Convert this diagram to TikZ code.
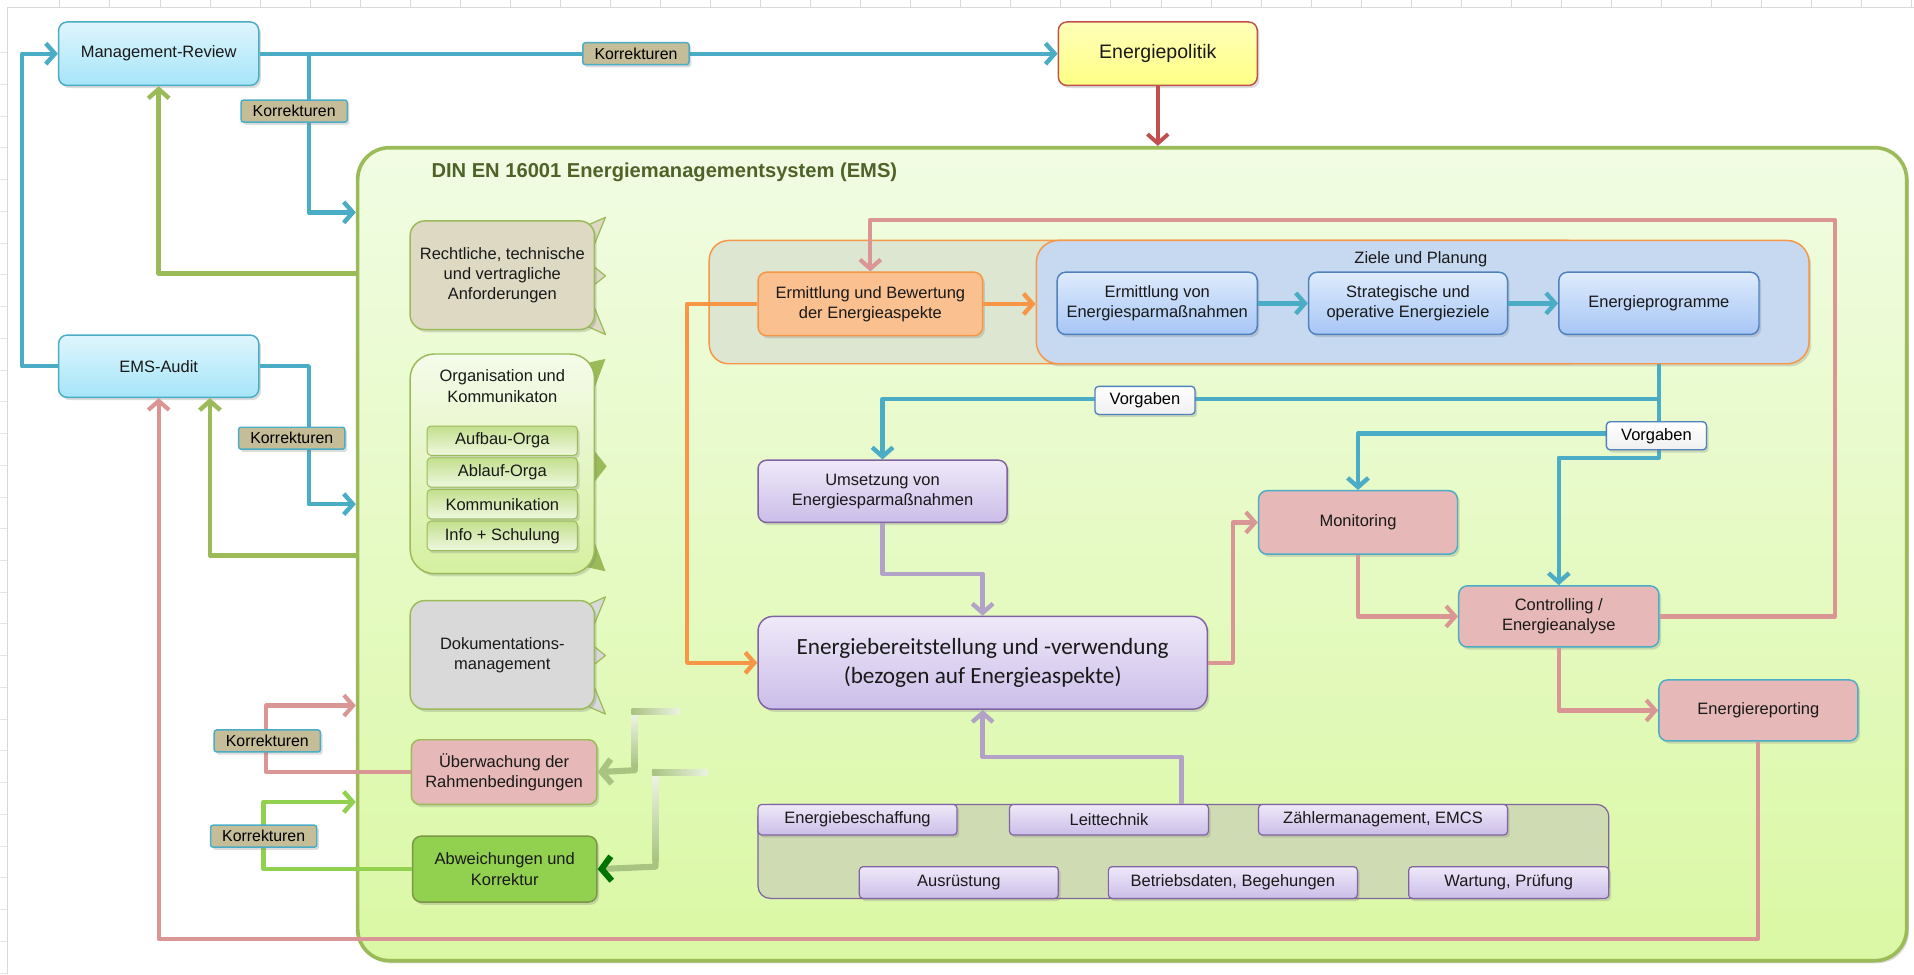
\documentclass[tikz,border=0pt]{standalone}
\usepackage{fontspec}
\setmainfont{Liberation Sans}
\newfontfamily\calfont{Carlito}
\usetikzlibrary{arrows.meta,shadows}
\definecolor{tealc}{HTML}{4BACC6}
\definecolor{pinkc}{HTML}{D99694}
\definecolor{greenc}{HTML}{9BBB59}
\definecolor{lgreenc}{HTML}{92D050}
\definecolor{orangec}{HTML}{F79646}
\definecolor{purplec}{HTML}{B3A2C7}
\definecolor{redc}{HTML}{C0504D}
\definecolor{khakic}{HTML}{C4BD97}
\definecolor{blueb}{HTML}{4F81BD}
\definecolor{lavb}{HTML}{8064A2}
\definecolor{cyantop}{HTML}{DEF5FD}
\definecolor{cyanbot}{HTML}{A6E5F9}
\definecolor{yeltop}{HTML}{FFFFB8}
\definecolor{yelbot}{HTML}{FFFF85}
\definecolor{emstop}{HTML}{F1FCE3}
\definecolor{emsbot}{HTML}{DAF8A4}
\definecolor{tanc}{HTML}{DDD9C3}
\definecolor{grayc}{HTML}{D9D9D9}
\definecolor{rosec}{HTML}{E6B9B8}
\definecolor{abwc}{HTML}{92D050}
\definecolor{orgtop}{HTML}{F5FBEA}
\definecolor{orgbot}{HTML}{D5F0A0}
\definecolor{subtop}{HTML}{C3DF8D}
\definecolor{subbot}{HTML}{EFF8E0}
\definecolor{ermc}{HTML}{FAC090}
\definecolor{grpor}{HTML}{DCE6D0}
\definecolor{zielc}{HTML}{C6D9F1}
\definecolor{bluetop}{HTML}{DEEBFD}
\definecolor{bluebot}{HTML}{A7C6F5}
\definecolor{lavtop}{HTML}{EFE9F9}
\definecolor{lavbot}{HTML}{CBBDE8}
\definecolor{grpc}{HTML}{CFDBB2}
\definecolor{titlec}{HTML}{4F6228}
\definecolor{fadec}{HTML}{A9C381}
\definecolor{fadel}{HTML}{ECF3E2}
\tikzset{
  shad/.style={drop shadow={shadow xshift=1.8pt,shadow yshift=-2.2pt,opacity=0.28}},
  bx/.style={rounded corners=7pt, align=center, inner sep=2pt, text=black!90,
    font=\fontsize{13.5}{16.5}\selectfont, line width=1.2pt, shad},
  cyanbox/.style={bx, draw=tealc, top color=cyantop, bottom color=cyanbot},
  yelbox/.style={bx, draw=redc, top color=yeltop, bottom color=yelbot, font=\fontsize{16}{19}\selectfont},
  bluebox/.style={bx, draw=blueb, top color=bluetop, bottom color=bluebot},
  lavbox/.style={bx, draw=lavb, top color=lavtop, bottom color=lavbot},
  rosebox/.style={bx, draw=tealc, fill=rosec},
  leftbox/.style={bx, draw=greenc, rounded corners=12pt, minimum width=151pt},
  subbox/.style={bx, rounded corners=3pt, draw=greenc, line width=0.8pt, top color=subtop,
    bottom color=subbot, minimum width=123pt, minimum height=24pt, inner sep=1pt},
  itembox/.style={lavbox, rounded corners=3pt, line width=1pt, minimum height=25pt, inner sep=1pt},
  kor/.style={fill=khakic, draw=tealc, line width=1.2pt, rounded corners=2pt, inner sep=1.5pt,
    minimum width=87pt, minimum height=18pt, font=\fontsize{13}{15}\selectfont, shad},
  vor/.style={top color=white, bottom color=black!6, draw=blueb, line width=1.1pt, rounded corners=3pt,
    inner sep=1.5pt, minimum width=82pt, minimum height=23pt, font=\fontsize{13.5}{15}\selectfont, shad},
  tip/.style={-{Straight Barb[length=7.5pt,width=17pt]}},
  tealarr/.style={draw=tealc, line width=3.6pt, tip},
  greenarr/.style={draw=greenc, line width=3.6pt, tip},
  lgreenarr/.style={draw=lgreenc, line width=3.6pt, tip},
  pinkarr/.style={draw=pinkc, line width=3.4pt, tip},
  orangearr/.style={draw=orangec, line width=3.6pt, tip},
  purplearr/.style={draw=purplec, line width=3.6pt, tip},
  redarr/.style={draw=redc, line width=3.2pt, tip},
  fadearr/.style={draw=fadec, line width=5pt, -{Straight Barb[length=8pt,width=20pt]}},
}
\begin{document}
\begin{tikzpicture}[x=1pt,y=-1pt,line join=round]
\useasboundingbox (0,0) rectangle (1568,798);
% sheet grid
\draw[gray!30,line width=0.8pt] (6,798) -- (6,6) -- (1568,6);
\foreach \i in {0,...,37} \draw[gray!30,line width=0.6pt] (49+41*\i,0) -- (49+41*\i,6);
\foreach \i in {0,...,29} \draw[gray!20,line width=0.5pt] (0,43+26*\i) -- (6,43+26*\i);

% main EMS frame
\node[draw=greenc, line width=3pt, top color=emstop, bottom color=emsbot, rounded corners=26pt,
  minimum width=1269pt, minimum height=666pt, shad] (ems) at (927.5,454) {};
\node[anchor=west, font=\bfseries\fontsize{16.5}{19}\selectfont, text=titlec] (title) at (350,141)
  {DIN EN 16001 Energiemanagementsystem (EMS)};

% outer boxes
\node[cyanbox, minimum width=164pt, minimum height=52pt] (mr) at (130,44) {Management-Review};
\node[cyanbox, minimum width=164pt, minimum height=51pt] (audit) at (130,300) {EMS-Audit};
\node[yelbox, minimum width=163pt, minimum height=52pt] (ep) at (948.5,44) {Energiepolitik};

% left column callout wedges
\filldraw[fill=tanc, draw=greenc, line width=1pt] (478,186) -- (496,178) -- (487,200) -- cycle;
\filldraw[fill=tanc, draw=greenc, line width=1pt] (486,218) -- (496,226) -- (486,234) -- cycle;
\filldraw[fill=tanc, draw=greenc, line width=1pt] (478,266) -- (496,274) -- (487,252) -- cycle;
\fill[greenc] (478,298) -- (496,294) -- (487,318) -- cycle;
\fill[greenc] (486,368) -- (497,382) -- (486,396) -- cycle;
\fill[greenc] (478,464) -- (496,468) -- (487,444) -- cycle;
\filldraw[fill=grayc, draw=greenc, line width=1pt] (478,497) -- (496,489) -- (487,511) -- cycle;
\filldraw[fill=grayc, draw=greenc, line width=1pt] (486,529) -- (496,537) -- (486,545) -- cycle;
\filldraw[fill=grayc, draw=greenc, line width=1pt] (478,577) -- (496,585) -- (487,563) -- cycle;

\node[leftbox, fill=tanc, minimum height=89pt] (rech) at (411.5,225.5)
  {Rechtliche, technische\\und vertragliche\\Anforderungen};
\node[leftbox, top color=orgtop, bottom color=orgbot, minimum height=180pt, rounded corners=20pt] (org) at (411.5,380) {};
\node[align=center, font=\fontsize{13.5}{17}\selectfont, text=black!90] (orgt) at (411.5,316)
  {Organisation und\\Kommunikaton};
\node[subbox] (s1) at (411.5,361) {Aufbau-Orga};
\node[subbox] (s2) at (411.5,387) {Ablauf-Orga};
\node[subbox] (s3) at (411.5,413) {Kommunikation};
\node[subbox] (s4) at (411.5,439) {Info + Schulung};
\node[leftbox, fill=grayc, minimum height=89pt] (dok) at (411.5,536.5) {Dokumentations-\\management};
\node[bx, draw=greenc, fill=rosec, minimum width=152pt, minimum height=53pt] (ueb) at (413,632.5)
  {Überwachung der\\Rahmenbedingungen};
\node[bx, draw=greenc!80!black, fill=abwc, minimum width=151pt, minimum height=54pt] (abw) at (413.5,712)
  {Abweichungen und\\Korrektur};

% faded arrows
\shade[top color=fadel, bottom color=fadec] (517.5,586) rectangle (522.5,628);
\draw[fadearr] (520,626) -- (520,631) -- (ueb.east);
\shade[left color=fadec, right color=fadel] (517.5,580.5) rectangle (557,585.5);
\shade[top color=fadel, bottom color=fadec] (534.5,636) rectangle (539.5,705);
\draw[draw=fadec, line width=5pt, -{Straight Barb[length=8pt,width=20pt,color=green!45!black]}] (537,703) -- (537,710) -- (abw.east);
\shade[left color=fadec, right color=fadel] (534.5,630.5) rectangle (580,635.5);

% planning group
\draw[orangec, line width=1.2pt, fill=grpor, rounded corners=16pt] (581,197) rectangle (1300,298);
\node[draw=orangec, line width=1.2pt, fill=zielc, rounded corners=18pt, minimum width=633pt,
  minimum height=101pt, shad] (zp) at (1165.5,247.5) {};
\node[font=\fontsize{13.5}{16}\selectfont, text=black!90] (zpt) at (1164,212) {Ziele und Planung};
\node[bx, draw=orangec, fill=ermc, minimum width=184pt, minimum height=52pt] (erm) at (713,249)
  {Ermittlung und Bewertung\\der Energieaspekte};
\node[bluebox, minimum width=164pt, minimum height=51pt] (ev) at (948,248.5) {Ermittlung von\\Energiesparmaßnahmen};
\node[bluebox, minimum width=163pt, minimum height=51pt] (sz) at (1153.5,248.5) {Strategische und\\operative Energieziele};
\node[bluebox, minimum width=164pt, minimum height=51pt] (epg) at (1359,248.5) {Energieprogramme};

% lower nodes
\node[lavbox, minimum width=204pt, minimum height=51pt] (ums) at (723,402.5) {Umsetzung von\\Energiesparmaßnahmen};
\node[lavbox, rounded corners=12pt, minimum width=368pt, minimum height=76pt,
  font=\calfont\fontsize{19}{24}\selectfont] (eb) at (805,543)
  {Energiebereitstellung und -verwendung\\(bezogen auf Energieaspekte)};
\node[rosebox, minimum width=163pt, minimum height=52pt] (mon) at (1112.5,428) {Monitoring};
\node[rosebox, minimum width=164pt, minimum height=50pt] (ctrl) at (1277,505) {Controlling /\\Energieanalyse};
\node[rosebox, minimum width=163pt, minimum height=50pt] (rep) at (1440.5,582) {Energiereporting};

% bottom group
\node[draw=lavb, line width=1pt, fill=grpc, rounded corners=10pt, minimum width=697pt,
  minimum height=77pt] (grp) at (969.5,697.5) {};
\node[itembox, minimum width=163pt] (i1) at (702.5,671.5) {Energiebeschaffung};
\node[itembox, minimum width=163pt] (i2) at (908.5,671.5) {Leittechnik};
\node[itembox, minimum width=204pt] (i3) at (1133,671.5) {Zählermanagement, EMCS};
\node[itembox, minimum width=163pt, minimum height=26pt] (i4) at (785.5,723) {Ausrüstung};
\node[itembox, minimum width=204pt, minimum height=26pt] (i5) at (1010,723) {Betriebsdaten, Begehungen};
\node[itembox, minimum width=164pt, minimum height=26pt] (i6) at (1236,723) {Wartung, Prüfung};

% coordinates
\coordinate (j0) at (1359,298);
\coordinate (j1) at (1359,327);
\coordinate (j2) at (1359,355);
\coordinate (j3) at (1359,375);

% outer connectors
\draw[tealarr] (mr.east) -- (ep.west);
\draw[tealarr] (mr.east -| 253,0) -- (253,174) -- (ems.west |- 0,174);
\draw[tealarr] (audit.west) -- (18,300) |- (mr.west);
\draw[tealarr] (audit.east) -- (253,300) -- (253,413) -- (ems.west |- 0,413);
\draw[greenarr] (ems.west |- 0,224) -| (mr.south);
\draw[greenarr] (ems.west |- 0,455) -| (audit.south -| 172,0);
\draw[pinkarr] (rep.south) -- (rep.south |- 0,769) -| (audit.south);
\draw[redarr] (ep.south) -- (ep.south |- ems.north);
\draw[pinkarr] (ueb.west) -| (218,578) -- (ems.west |- 0,578);
\draw[lgreenarr] (abw.west) -| (216,657) -- (ems.west |- 0,657);

% inner connectors
\draw[orangearr] (erm.east) -- (zp.west |- erm.east);
\draw[tealarr] (ev.east) -- (sz.west);
\draw[tealarr] (sz.east) -- (epg.west);
\draw[pinkarr] (ctrl.east) -| (1503,180) -| (erm.north);
\draw[orangearr] (erm.west) -| (563,543) -- (eb.west);
\draw[tealarr] (j0) -- (j1) -| (ums.north);
\draw[tealarr] (j1) -- (j2) -| (mon.north);
\draw[tealarr] (j2) -- (j3) -| (ctrl.north);
\draw[purplearr] (ums.south) |- (eb.north |- 0,470) -- (eb.north);
\draw[pinkarr] (eb.east) -- (1010,543) |- (mon.west);
\draw[pinkarr] (mon.south) |- (ctrl.west);
\draw[pinkarr] (ctrl.south) |- (rep.west);
\draw[purplearr] (grp.north -| 968,0) |- (eb.south |- 0,620) -- (eb.south);

% labels
\node[kor] (k1) at (521,44) {Korrekturen};
\node[kor] (k2) at (241,91) {Korrekturen};
\node[kor] (k3) at (239,359) {Korrekturen};
\node[kor] (k4) at (219,607) {Korrekturen};
\node[kor] (k5) at (216,685) {Korrekturen};
\node[vor] (v1) at (938,328) {Vorgaben};
\node[vor] (v2) at (1357,357) {Vorgaben};
\end{tikzpicture}
\end{document}
